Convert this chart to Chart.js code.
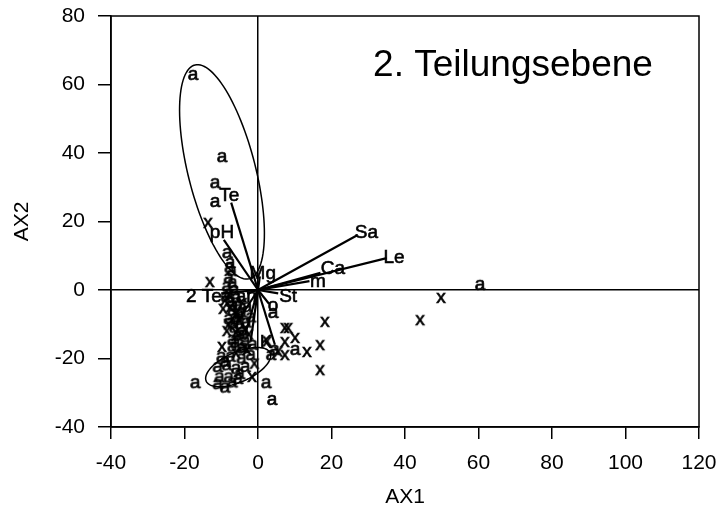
<!DOCTYPE html>
<html>
<head>
<meta charset="utf-8">
<script src="https://cdn.jsdelivr.net/npm/chart.js@4/dist/chart.umd.min.js"></script>
<style>
  html, body { margin: 0; padding: 0; background: #fff; }
  #wrap { width: 721px; height: 512px; }
</style>
</head>
<body>
<div id="wrap"><canvas id="biplot" width="721" height="512"></canvas></div>
<script>
// Points "a" (x, y in AX1 / AX2 units)
const aPoints = [
  [-17.7, 62.8], [-9.8, 38.8], [-11.7, 31.2], [-11.7, 25.7], [-8.4, 10.8], [-7.6, 7.9],
  [-7.2, 5.5], [-8.0, 3.5], [-7.0, 2.0], [-8.5, 1.0], [-6.5, 0.0], [-8.0, -1.0],
  [-6.0, -2.5], [-7.5, -3.5], [-5.5, -4.5], [-7.0, -6.0], [-4.5, -6.5], [-6.0, -8.0],
  [-8.0, -8.5], [-5.0, -10.0], [-6.5, -11.0], [-4.0, -12.0], [-5.5, -13.5], [-7.0, -14.5],
  [-3.5, -15.0], [-4.5, -17.0], [-2.0, -8.0], [-3.0, -5.0], [4.1, -6.7], [-7.0, -16.5],
  [-4.0, -16.8], [-1.5, -16.0], [-10.0, -19.5], [-7.5, -19.5], [-4.5, -20.0], [-2.0, -19.0],
  [-11.0, -22.5], [-8.5, -22.0], [-6.0, -23.0], [-3.5, -22.5], [-10.5, -25.5], [-8.0, -25.5],
  [-5.5, -26.0], [-9.0, -28.5], [-7.0, -27.0], [-11.0, -27.5], [4.5, -17.5], [3.5, -19.0],
  [10.1, -17.5], [2.2, -27.2], [3.8, -32.1], [-17.1, -27.2], [60.4, 1.5],
  [-8.8, -2.0], [-6.8, -4.5], [-5.2, -7.2], [-7.2, -9.5], [-4.8, -13.0], [-6.2, -15.5],
  [-7.8, 6.5], [-9.0, -21.0], [-5.0, -24.5], [-3.2, -9.5]
];

// Points "x"
const xPoints = [
  [-13.6, 19.6], [-13.1, 2.3], [-9.0, -3.0], [-7.5, -5.0], [-6.0, -7.0], [-8.0, -10.0],
  [-5.0, -9.0], [-3.5, -11.5], [-6.0, -12.5], [-9.5, -5.5], [-2.5, -13.0], [-9.8, -16.6],
  [-3.0, -17.5], [-6.0, -18.5], [-1.0, -21.5], [-1.6, -25.4], [7.3, -15.2], [7.3, -19.0],
  [10.1, -14.0], [13.3, -18.1], [7.3, -11.1], [8.2, -11.1], [16.9, -16.1], [16.9, -23.4],
  [18.2, -9.3], [44.1, -8.8], [49.8, -2.3], [2.5, -15.0], [5.5, -18.0],
  [-7.8, -1.5], [-4.2, -3.8], [-8.5, -12.0]
];

// Environmental vectors: name, tip, label position
const vectorNames = ['Sa', 'Le', 'Ca', 'm', 'Mg', 'Te', 'pH', 'St', 'o', 'K', '2 Te', 'an', '', '', ''];
const vectorTips = [
  [27, 16], [35, 9.3], [17, 5], [14, 2.6], [0.5, 4], [-7.3, 25.5], [-9.3, 14.6], [5.5, -1],
  [3, -4], [4.6, -16], [-10, -1], [-3, -1], [-3.5, -13], [-6, -10], [-2, -15]
];
const labelPos = [
  [29.5, 16.8], [37, 9.3], [20.4, 6.1], [16.3, 2.3], [1.3, 4.6], [-7.8, 27.5], [-9.8, 16.6], [8.2, -2],
  [4.1, -4.7], [2.2, -15.5], [-14.7, -2], [-3.2, -2], null, null, null
];

// Ellipses: centre and two half axes (data units)
const ellipseCentres = [[-9.8, 34.5], [-5.4, -22.5]];
const ellipseAxisU = [[-7.35, 31.2], [8.7, 4.1]];
const ellipseAxisV = [[8.9, 2.4], [1.6, -4.0]];

const xTicks = [-40, -20, 0, 20, 40, 60, 80, 100, 120];
const yTicks = [-40, -20, 0, 20, 40, 60, 80];

const FONT = '"Liberation Sans", Arial, Helvetica, sans-serif';

// petit canevas avec une lettre, utilisé comme symbole de point
function glyph(ch) {
  const c = document.createElement('canvas');
  c.width = 18; c.height = 22;
  const g = c.getContext('2d');
  g.font = '19px ' + FONT;
  g.textAlign = 'center';
  g.textBaseline = 'alphabetic';
  g.fillStyle = '#000';
  g.strokeStyle = '#000';
  g.lineWidth = 0.7;
  g.fillText(ch, 9, 16);
  g.strokeText(ch, 9, 16);
  return c;
}

const toXY = p => ({ x: p[0], y: p[1] });

const datasets = [
  {
    type: 'scatter', label: 'a', data: aPoints.map(toXY),
    pointStyle: glyph('a'), pointRadius: 9, pointHoverRadius: 9
  },
  {
    type: 'scatter', label: 'x', data: xPoints.map(toXY),
    pointStyle: glyph('x'), pointRadius: 9, pointHoverRadius: 9
  }
];
vectorTips.forEach((t, i) => {
  datasets.push({
    type: 'line', label: vectorNames[i] || 'v' + i,
    data: [{ x: 0, y: 0 }, toXY(t)],
    borderColor: '#000', borderWidth: 2.2, pointRadius: 0, fill: false, tension: 0
  });
});

// ellipses, étiquettes, titre et cadre
const overlay = {
  id: 'overlay',
  afterDatasetsDraw(chart) {
    const { ctx, chartArea: a, scales: { x, y } } = chart;
    ctx.save();
    ctx.strokeStyle = '#000';
    ctx.lineWidth = 1.5;
    ellipseCentres.forEach((c, k) => {
      const u = ellipseAxisU[k], v = ellipseAxisV[k];
      ctx.beginPath();
      for (let i = 0; i <= 120; i++) {
        const t = i / 120 * Math.PI * 2;
        const px = x.getPixelForValue(c[0] + Math.cos(t) * u[0] + Math.sin(t) * v[0]);
        const py = y.getPixelForValue(c[1] + Math.cos(t) * u[1] + Math.sin(t) * v[1]);
        if (i === 0) ctx.moveTo(px, py); else ctx.lineTo(px, py);
      }
      ctx.stroke();
    });

    ctx.fillStyle = '#000';
    ctx.lineWidth = 0.6;
    ctx.font = '19px ' + FONT;
    ctx.textAlign = 'center';
    ctx.textBaseline = 'middle';
    labelPos.forEach((p, i) => {
      if (!p || !vectorNames[i]) return;
      const px = x.getPixelForValue(p[0]), py = y.getPixelForValue(p[1]);
      ctx.fillText(vectorNames[i], px, py);
      ctx.strokeText(vectorNames[i], px, py);
    });

    ctx.font = '37px ' + FONT;
    ctx.textBaseline = 'alphabetic';
    ctx.fillText('2. Teilungsebene', a.left + 402, a.top + 60);

    ctx.lineWidth = 1.5;
    ctx.strokeRect(a.left, a.top, a.right - a.left, a.bottom - a.top);
    ctx.restore();
  }
};

const zeroLine = c => (c.tick && c.tick.value === 0) ? '#000' : 'rgba(0,0,0,0)';

new Chart(document.getElementById('biplot'), {
  type: 'scatter',
  data: { datasets },
  options: {
    responsive: false,
    animation: false,
    events: [],
    layout: { padding: { top: 16, right: 22, left: 0, bottom: 0 } },
    plugins: { legend: { display: false }, tooltip: { enabled: false } },
    scales: {
      x: {
        type: 'linear', min: -40, max: 120,
        afterBuildTicks: s => { s.ticks = xTicks.map(v => ({ value: v })); },
        afterFit: s => { s.height = 85; s.paddingLeft = 0; s.paddingRight = 0; },
        ticks: { color: '#000', font: { family: FONT, size: 21 }, padding: 12, maxRotation: 0 },
        grid: { color: zeroLine, lineWidth: 1.5, tickColor: '#000', tickLength: 12 },
        border: { display: true, color: '#000', width: 1.5 },
        title: { display: true, text: 'AX1', color: '#000', font: { family: FONT, size: 21 }, padding: { top: 4, bottom: 2 } }
      },
      y: {
        type: 'linear', min: -40, max: 80,
        afterBuildTicks: s => { s.ticks = yTicks.map(v => ({ value: v })); },
        afterFit: s => { s.width = 111; s.paddingTop = 0; s.paddingBottom = 0; },
        ticks: { color: '#000', font: { family: FONT, size: 21 }, padding: 13 },
        grid: { color: zeroLine, lineWidth: 1.5, tickColor: '#000', tickLength: 13 },
        border: { display: true, color: '#000', width: 1.5 },
        title: { display: true, text: 'AX2', color: '#000', font: { family: FONT, size: 21 }, padding: { top: 10, bottom: 4 } }
      }
    }
  },
  plugins: [overlay]
});
</script>
</body>
</html>
